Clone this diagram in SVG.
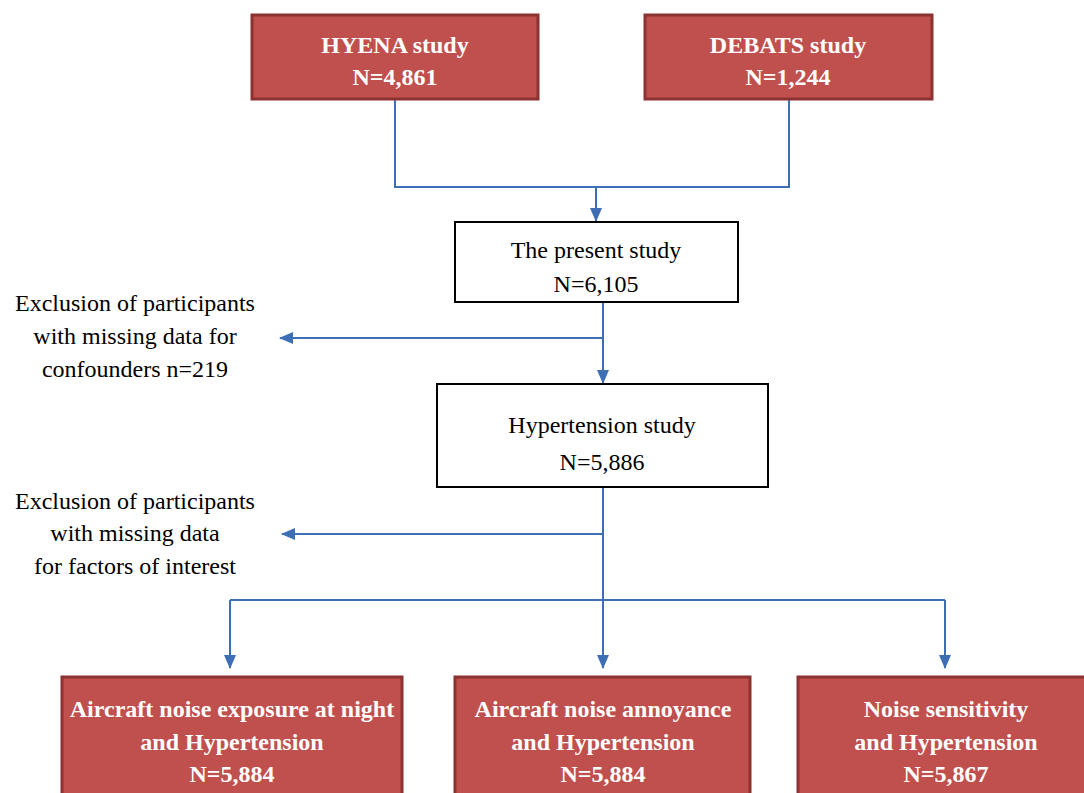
<svg xmlns="http://www.w3.org/2000/svg" width="1084" height="793" viewBox="0 0 1084 793">
<style>
.red{fill:#C0504D;stroke:#8C3331;stroke-width:3}
.wht{fill:#ffffff;stroke:#000000;stroke-width:2}
.tb{font-family:"Liberation Serif","Times New Roman",serif;font-size:24px;font-weight:bold;fill:#ffffff;text-anchor:middle}
.tr{font-family:"Liberation Serif","Times New Roman",serif;font-size:24px;fill:#000000;text-anchor:middle}
.ln{fill:none;stroke:#3E6EB4;stroke-width:2}
</style>
<defs>
<marker id="ah" viewBox="0 0 14 12" refX="13" refY="6" markerWidth="14" markerHeight="12" markerUnits="userSpaceOnUse" orient="auto">
<path d="M0,0 L14,6 L0,12 Z" fill="#3E6EB4"/>
</marker>
</defs>
<rect width="1084" height="793" fill="#ffffff"/>
<g id="connectors">
<path class="ln" d="M395,99 V187 H789 V99"/>
<path class="ln" d="M596,187 V221" marker-end="url(#ah)"/>
<path class="ln" d="M603,302 V383" marker-end="url(#ah)"/>
<path class="ln" d="M603,338 H280" marker-end="url(#ah)"/>
<path class="ln" d="M603,487 V668" marker-end="url(#ah)"/>
<path class="ln" d="M603,534 H282" marker-end="url(#ah)"/>
<path class="ln" d="M230,600 H945"/>
<path class="ln" d="M230,600 V668" marker-end="url(#ah)"/>
<path class="ln" d="M945,600 V668" marker-end="url(#ah)"/>
</g>
<g id="hyena">
<rect class="red" x="252" y="15" width="286" height="84"/>
<text class="tb" x="395" y="53">HYENA study</text>
<text class="tb" x="395" y="85">N=4,861</text>
</g>
<g id="debats">
<rect class="red" x="645" y="15" width="287" height="84"/>
<text class="tb" x="788" y="53">DEBATS study</text>
<text class="tb" x="788" y="85">N=1,244</text>
</g>
<g id="present">
<rect class="wht" x="455" y="222" width="283" height="80"/>
<text class="tr" x="596" y="258">The present study</text>
<text class="tr" x="596" y="292">N=6,105</text>
</g>
<g id="excl1">
<text class="tr" x="135" y="311">Exclusion of participants</text>
<text class="tr" x="135" y="344">with missing data for</text>
<text class="tr" x="135" y="377">confounders n=219</text>
</g>
<g id="hypertension">
<rect class="wht" x="437" y="384" width="331" height="103"/>
<text class="tr" x="602" y="433">Hypertension study</text>
<text class="tr" x="602" y="470">N=5,886</text>
</g>
<g id="excl2">
<text class="tr" x="135" y="509">Exclusion of participants</text>
<text class="tr" x="135" y="541">with missing data</text>
<text class="tr" x="135" y="574">for factors of interest</text>
</g>
<g id="night">
<rect class="red" x="62" y="677" width="340" height="130"/>
<text class="tb" x="232" y="717">Aircraft noise exposure at night</text>
<text class="tb" x="232" y="750">and Hypertension</text>
<text class="tb" x="232" y="782">N=5,884</text>
</g>
<g id="annoyance">
<rect class="red" x="455" y="677" width="295" height="130"/>
<text class="tb" x="603" y="717">Aircraft noise annoyance</text>
<text class="tb" x="603" y="750">and Hypertension</text>
<text class="tb" x="603" y="782">N=5,884</text>
</g>
<g id="sensitivity">
<rect class="red" x="798" y="677" width="300" height="130"/>
<text class="tb" x="946" y="717">Noise sensitivity</text>
<text class="tb" x="946" y="750">and Hypertension</text>
<text class="tb" x="946" y="782">N=5,867</text>
</g>
</svg>
